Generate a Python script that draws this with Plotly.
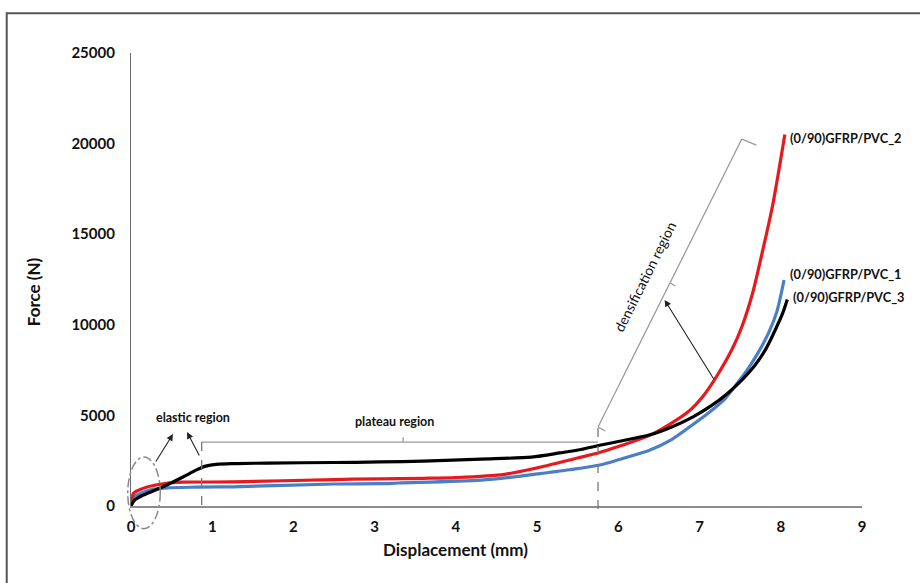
import plotly.graph_objects as go

# ---- data ----
x_pvc3 = [0, 0.05, 0.15, 0.3, 0.44, 0.64, 0.8, 0.92, 1.05, 1.3, 1.68, 2.5, 3.07, 3.6, 4.31, 4.93, 5.28, 5.54, 5.77,
          6.0, 6.39, 6.65, 6.92, 7.15, 7.34, 7.52, 7.68, 7.82, 7.93, 8.02, 8.08]
f_pvc3 = [0, 350, 600, 880, 1160, 1600, 1980, 2200, 2300, 2340, 2370, 2400, 2430, 2480, 2590, 2700, 2930, 3120, 3350,
          3560, 3930, 4350, 4920, 5550, 6200, 6950, 7750, 8700, 9700, 10600, 11400]

x_pvc2 = [0, 0.03, 0.1, 0.2, 0.36, 0.5, 0.64, 1.25, 2.5, 3.07, 3.6, 4.0, 4.6, 5.14, 5.5, 5.77, 6.0,
          6.41, 6.86, 7.05, 7.23, 7.4, 7.52, 7.65, 7.77, 7.9, 8.05]
f_pvc2 = [0, 700, 880, 1050, 1200, 1290, 1320, 1330, 1460, 1500, 1530, 1570, 1750, 2250, 2650, 2950, 3280,
          3950, 5200, 6100, 7300, 8650, 9880, 11700, 13960, 16600, 20500]

x_pvc1 = [0, 0.03, 0.1, 0.23, 0.44, 0.8, 1.25, 2.5, 3.07, 3.3, 4.31, 4.8, 5.14, 5.4, 5.77, 6.0, 6.39,
          6.65, 6.92, 7.1, 7.31, 7.46, 7.6, 7.72, 7.85, 7.95, 8.04]
f_pvc1 = [0, 500, 650, 880, 1000, 1040, 1060, 1215, 1230, 1270, 1430, 1650, 1850, 2000, 2260, 2550, 3090,
          3650, 4500, 5100, 5900, 6750, 7600, 8450, 9550, 10700, 12470]

series_names = ["(0/90)GFRP/PVC_1", "(0/90)GFRP/PVC_2", "(0/90)GFRP/PVC_3"]
series_colors = ["#4a7fc8", "#e8191e", "#000000"]

x_ticks = [0, 1, 2, 3, 4, 5, 6, 7, 8, 9]
y_ticks = [0, 5000, 10000, 15000, 20000, 25000]
x_range = [0, 9]
y_range = [0, 25000]

FONT = "Lato"
GRAY = "#9a9a9a"

fig = go.Figure()
for xs, fs, name, col in [(x_pvc1, f_pvc1, series_names[0], series_colors[0]),
                          (x_pvc2, f_pvc2, series_names[1], series_colors[1]),
                          (x_pvc3, f_pvc3, series_names[2], series_colors[2])]:
    fig.add_trace(go.Scatter(x=xs, y=fs, mode="lines", name=name,
                             line=dict(color=col, width=3.2, shape="spline", smoothing=0.8)))


def px(x):
    return (x - x_range[0]) / (x_range[1] - x_range[0])


def py(y):
    return (y - y_range[0]) / (y_range[1] - y_range[0])


def seg(x0, y0, x1, y1, dash="solid", color=GRAY, width=1.3):
    fig.add_shape(type="line", xref="paper", yref="paper",
                  x0=px(x0), y0=py(y0), x1=px(x1), y1=py(y1),
                  line=dict(color=color, width=width, dash=dash))


# outer frame (top and left edges visible)
fig.add_shape(type="path", xref="paper", yref="paper",
              path=f"M {px(-1.53)} {py(-5500)} L {px(-1.53)} {py(27200)} L {px(10)} {py(27200)}",
              line=dict(color="#555555", width=2))

# elastic region ellipse
fig.add_shape(type="circle", xref="paper", yref="paper",
              x0=px(-0.04), x1=px(0.36), y0=py(-1250), y1=py(2700),
              line=dict(color="#8a8a8a", width=1.5, dash="dashdot"))

# plateau bracket
seg(0.87, 3530, 5.75, 3530)
seg(0.87, 3530, 0.87, -330, dash="dash", color="#777777")
seg(5.75, 4300, 5.75, -330, dash="dash", color="#777777")
seg(3.35, 3530, 3.35, 3800)

# densification bracket
seg(5.75, 4360, 7.52, 20250)
seg(5.75, 4360, 5.84, 4140)
seg(7.52, 20250, 7.70, 19920)
seg(6.64, 12310, 6.70, 12140)

# arrows
for hx, hy, tx, ty in [(0.517, 3970, 0.295, 2370), (0.69, 4080, 0.85, 2700), (6.57, 11370, 7.19, 6900)]:
    fig.add_annotation(x=hx, y=hy, ax=tx, ay=ty, xref="x", yref="y", axref="x", ayref="y",
                       text="", showarrow=True, arrowhead=2, arrowsize=1.2, arrowwidth=1.1,
                       arrowcolor="#222222")

fig.add_annotation(x=0.76, y=4910, text="<b>elastic region</b>", showarrow=False,
                   font=dict(family=FONT, size=12.5, color="#111111"))
fig.add_annotation(x=3.24, y=4690, text="<b>plateau region</b>", showarrow=False,
                   font=dict(family=FONT, size=12.5, color="#111111"))
fig.add_annotation(x=6.33, y=12640, text="densification region", showarrow=False, textangle=-63.5,
                   font=dict(family=FONT, size=14, color="#111111"))

for lx, ly, name in [(8.09, 20310, series_names[1]), (8.09, 12800, series_names[0]),
                     (8.13, 11530, series_names[2])]:
    fig.add_annotation(x=lx, y=ly, text=f"<b>{name}</b>", showarrow=False, xanchor="left",
                       font=dict(family=FONT, size=12.8, color="#111111"))

# axis titles
fig.add_annotation(x=px(4.0), y=py(-3100), xref="paper", yref="paper", text="<b>Displacement (mm)</b>",
                   showarrow=False, font=dict(family=FONT, size=17, color="#111111"))
fig.add_annotation(x=px(-1.36), y=py(11800), xref="paper", yref="paper", text="<b>Force (N)</b>",
                   textangle=-90, showarrow=False, font=dict(family=FONT, size=17, color="#111111"))

fig.update_layout(
    width=920, height=583,
    margin=dict(l=131, r=58, t=53, b=77),
    paper_bgcolor="white", plot_bgcolor="white",
    showlegend=False,
    font=dict(family=FONT, color="#111111"),
    xaxis=dict(range=x_range, tickvals=x_ticks, ticktext=[f"<b>{v}</b>" for v in x_ticks],
               showgrid=False, zeroline=False,
               showline=True, linecolor="#8c8c8c", linewidth=2, ticks="",
               tickfont=dict(family=FONT, size=15, color="#111111"), ticklabelstandoff=6),
    yaxis=dict(range=y_range, tickvals=y_ticks, ticktext=[f"<b>{v}</b>" for v in y_ticks],
               showgrid=False, zeroline=False,
               showline=True, linecolor="#6c6c6c", linewidth=1.2, ticks="",
               tickfont=dict(family=FONT, size=15, color="#111111"), ticklabelstandoff=12),
)

fig.write_html("out.html")
